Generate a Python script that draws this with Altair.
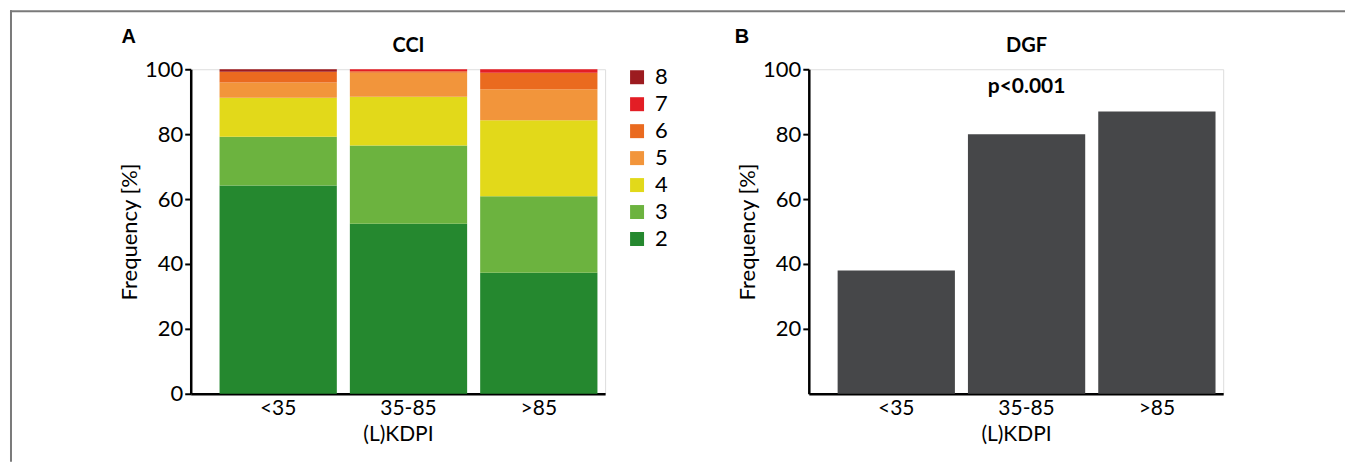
import altair as alt
import pandas as pd

FONT = "Lato"

groups = ["<35", "35-85", ">85"]
cci_levels = ["2", "3", "4", "5", "6", "7", "8"]
cci_lt35 = [64.2, 15.0, 12.0, 4.7, 3.3, 0.0, 0.8]
cci_35_85 = [52.4, 24.1, 15.0, 7.4, 0.5, 0.6, 0.0]
cci_gt85 = [37.3, 23.6, 23.4, 9.5, 5.1, 1.1, 0.0]
legend_order = ["8", "7", "6", "5", "4", "3", "2"]
legend_colors = ["#9C1B1F", "#E31E25", "#EA6A1F", "#F2953B", "#E2D91A", "#6CB33F", "#25882F"]
dgf_values = [38, 80, 87]
y_ticks_a = [0, 20, 40, 60, 80, 100]
y_ticks_b = [20, 40, 60, 80, 100]

rows = []
for g, vals in zip(groups, [cci_lt35, cci_35_85, cci_gt85]):
    for lvl, v in zip(cci_levels, vals):
        rows.append({"group": g, "cci": lvl, "rank": int(lvl), "value": v})
df_a = pd.DataFrame(rows)
df_b = pd.DataFrame({"group": groups, "value": dgf_values})

W, H = 415, 325
LBL = 22
XLBL = 21
xscale = alt.Scale(domain=groups, paddingInner=0.1, paddingOuter=0.14, align=0.79)
yscale = alt.Scale(domain=[0, 100], nice=False)


def x_axis():
    return alt.Axis(title="(L)KDPI", labelAngle=0, ticks=False, domainColor="black",
                    domainWidth=2.5, labelFontSize=XLBL, titleFontSize=XLBL, labelPadding=4,
                    titlePadding=5, titleFontWeight="normal", labelColor="black",
                    titleColor="black", labelFont=FONT, titleFont=FONT, grid=False)


def y_axis(vals):
    return alt.Axis(title="Frequency [%]", values=vals, grid=False, domainColor="black",
                    domainWidth=2.5, tickColor="black", tickWidth=2, tickSize=6,
                    labelFontSize=LBL, titleFontSize=LBL, labelPadding=2, titlePadding=3,
                    titleFontWeight="normal", labelColor="black", titleColor="black",
                    labelFont=FONT, titleFont=FONT)


bars_a = alt.Chart(df_a).mark_bar().encode(
    x=alt.X("group:N", scale=xscale, sort=groups, axis=x_axis()),
    y=alt.Y("value:Q", stack="zero", scale=yscale, axis=y_axis(y_ticks_a)),
    color=alt.Color("cci:N", scale=alt.Scale(domain=legend_order, range=legend_colors),
                    legend=alt.Legend(orient="none", legendX=436, legendY=-3, title=None,
                                      symbolType="square", symbolSize=196, symbolStrokeWidth=0,
                                      symbolOpacity=1, labelFontSize=LBL, labelFont=FONT,
                                      labelColor="black", rowPadding=5, labelOffset=7)),
    order=alt.Order("rank:Q", sort="ascending"),
)

title_a = alt.Chart(pd.DataFrame({"t": ["CCI"], "g": ["35-85"]})).mark_text(
    fontWeight="bold", fontSize=20, font=FONT, color="black").encode(
    x=alt.X("g:N", scale=xscale, sort=groups), y=alt.value(-23), text="t:N")

letter_a = alt.Chart(pd.DataFrame({"t": ["A"]})).mark_text(
    fontWeight="bold", fontSize=20, font="Liberation Sans", color="black").encode(
    x=alt.value(-62), y=alt.value(-32), text="t:N")

frame_df = pd.DataFrame({"a": [0]})
frame_top = alt.Chart(frame_df).mark_rule(color="#7a7a7a", strokeWidth=2).encode(
    x=alt.value(-181), x2=alt.value(1156), y=alt.value(-58))
frame_left = alt.Chart(frame_df).mark_rule(color="#7a7a7a", strokeWidth=2).encode(
    x=alt.value(-180), y=alt.value(-59), y2=alt.value(393))

panel_a = alt.layer(bars_a, title_a, letter_a, frame_top, frame_left).properties(width=W, height=H)

bars_b = alt.Chart(df_b).mark_bar(color="#464749").encode(
    x=alt.X("group:N", scale=xscale, sort=groups, axis=x_axis()),
    y=alt.Y("value:Q", scale=yscale, axis=y_axis(y_ticks_b)),
)

title_b = alt.Chart(pd.DataFrame({"t": ["DGF"], "g": ["35-85"]})).mark_text(
    fontWeight="bold", fontSize=20, font=FONT, color="black").encode(
    x=alt.X("g:N", scale=xscale, sort=groups), y=alt.value(-23), text="t:N")

pval_b = alt.Chart(pd.DataFrame({"t": ["p<0.001"], "g": ["35-85"]})).mark_text(
    fontWeight="bold", fontSize=21, font=FONT, color="black").encode(
    x=alt.X("g:N", scale=xscale, sort=groups), y=alt.value(18), text="t:N")

letter_b = alt.Chart(pd.DataFrame({"t": ["B"]})).mark_text(
    fontWeight="bold", fontSize=20, font="Liberation Sans", color="black").encode(
    x=alt.value(-67), y=alt.value(-32), text="t:N")

panel_b = alt.layer(bars_b, title_b, pval_b, letter_b).properties(width=W, height=H)

chart = alt.hconcat(panel_a, panel_b, spacing=204, bounds="flush").properties(
    padding={"left": 0, "top": 0, "right": 0, "bottom": 0}
).configure_view(stroke=None).configure(background="white")

chart.save("out.html", embed_options={"renderer": "svg", "actions": False})
